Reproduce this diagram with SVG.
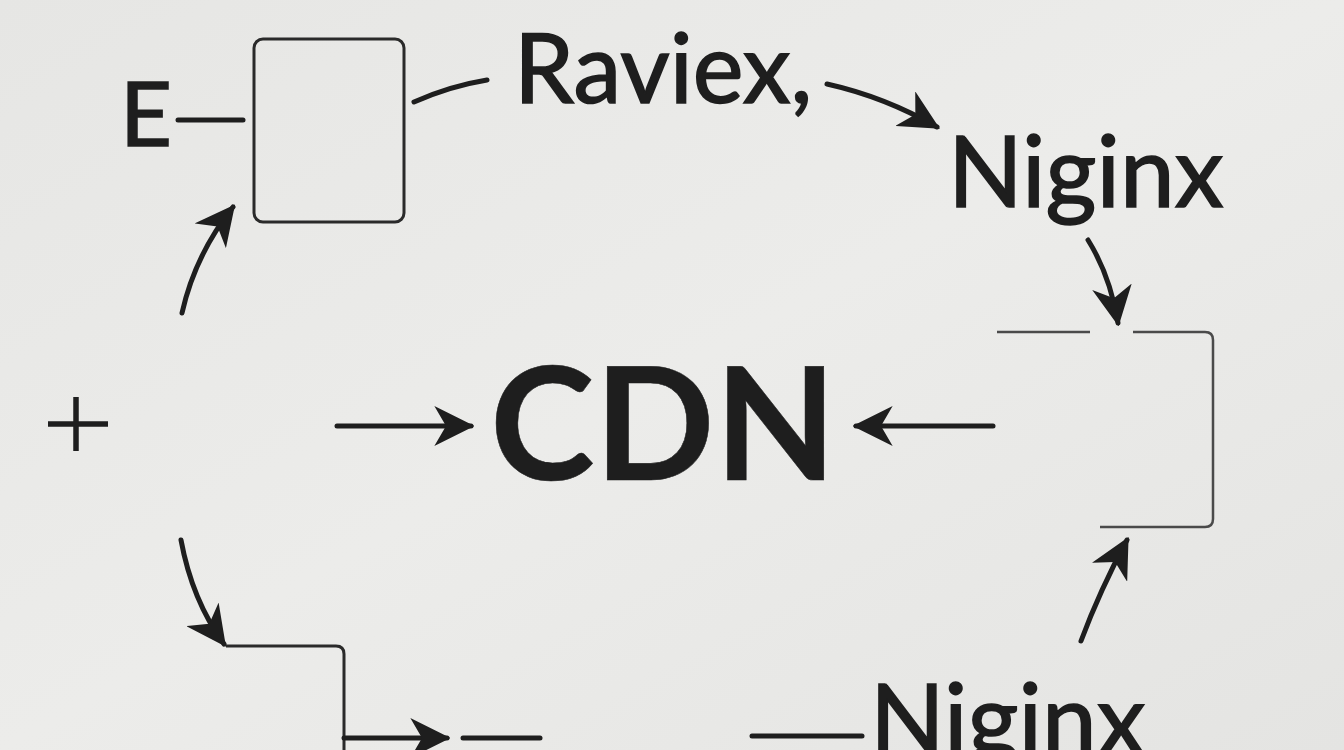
<svg xmlns="http://www.w3.org/2000/svg" width="1344" height="750" viewBox="0 0 1344 750">
<defs>
<style>
.lbl{font-family:Lato,"Open Sans","Liberation Sans",sans-serif;fill:#1e1e1e;stroke:#1e1e1e;stroke-width:1.6}
.big{font-weight:bold;stroke-width:0.5}
.th{fill:none;stroke:#1e1e1e;stroke-width:5;stroke-linecap:round}
.tn{fill:none;stroke:#4a4a4a;stroke-width:2.5}
.box{fill:none;stroke:#2a2a2a;stroke-width:3}
</style>
<marker id="ah" viewBox="0 0 12 12" refX="11" refY="6" markerWidth="8" markerHeight="8" orient="auto" markerUnits="strokeWidth">
<path d="M0,0 L12,6 L0,12 L3.5,6 z" fill="#1e1e1e"/>
</marker>
<linearGradient id="bg" x1="0" y1="0" x2="1" y2="1">
<stop offset="0" stop-color="#e6e6e4"/>
<stop offset="0.5" stop-color="#ececea"/>
<stop offset="1" stop-color="#e4e4e2"/>
</linearGradient>
</defs>
<rect width="1344" height="750" fill="url(#bg)"/>

<g id="connectors">
<path class="th" d="M178,120 L243,120"/>
<path class="th" d="M414,102 Q450,86 487,80"/>
<path class="th" marker-end="url(#ah)" d="M182,313 Q195,255 233,207"/>
<path class="th" marker-end="url(#ah)" d="M827,84 Q885,97 937,127"/>
<path class="th" marker-end="url(#ah)" d="M1088,240 Q1110,275 1118,323"/>
<path class="th" marker-end="url(#ah)" d="M337,426 L471,426"/>
<path class="th" marker-end="url(#ah)" d="M993,426 L856,426"/>
<path class="th" marker-end="url(#ah)" d="M1081,641 Q1100,590 1127,540"/>
<path class="th" marker-end="url(#ah)" d="M181,540 Q192,600 224,644"/>
<path class="tn" style="stroke:#2a2a2a;stroke-width:3" d="M226,646 L336,646 Q344,646 344,654 L344,750"/>
<path class="th" marker-end="url(#ah)" d="M344,738 L447,738"/>
<path class="th" d="M463,738 L540,738"/>
<path class="th" d="M752,736 L862,736"/>
</g>

<g id="node-e"><text class="lbl" x="120" y="146" font-size="90">E</text></g>
<g id="node-box"><rect class="box" x="254" y="39" width="150" height="183" rx="9"/></g>
<g id="node-raviex"><text class="lbl" x="514" y="103" font-size="96">Raviex,</text></g>
<g id="node-niginx-top"><text class="lbl" x="948" y="207" font-size="98">Niginx</text></g>
<g id="node-plus"><path d="M48,424 L108,424 M76,397 L76,451" stroke="#1e1e1e" stroke-width="5.5" fill="none"/></g>
<g id="node-cdn"><text class="lbl big" x="490" y="480" font-size="158">CDN</text></g>
<g id="node-bracket"><path class="tn" d="M997,332 L1090,332 M1133,332 L1205,332 Q1213,332 1213,340 L1213,519 Q1213,527 1205,527 L1100,527"/></g>
<g id="node-niginx-bottom"><text class="lbl" x="870" y="755" font-size="98">Niginx</text></g>
</svg>
